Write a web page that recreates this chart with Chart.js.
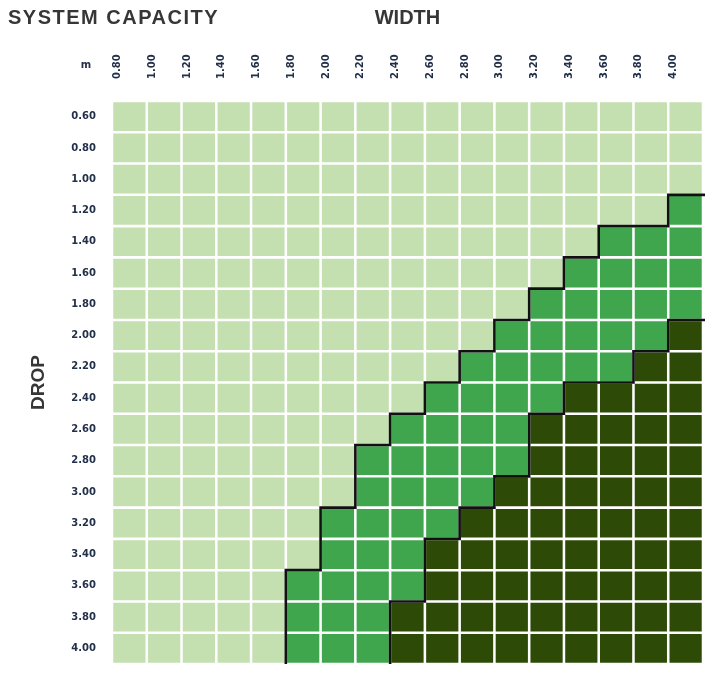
<!DOCTYPE html>
<html>
<head>
<meta charset="utf-8">
<script src="https://cdn.jsdelivr.net/npm/chart.js@4.4.1/dist/chart.umd.min.js"></script>
<style>
  body { margin: 0; background: #ffffff; }
  #wrap { width: 712px; height: 686px; }
</style>
</head>
<body>
<div id="wrap"><canvas id="capacityChart" width="712" height="686"></canvas></div>
<script>
// Width (m) columns and drop (m) rows
const widths = [0.80, 1.00, 1.20, 1.40, 1.60, 1.80, 2.00, 2.20, 2.40, 2.60, 2.80, 3.00, 3.20, 3.40, 3.60, 3.80, 4.00];
const drops = [0.60, 0.80, 1.00, 1.20, 1.40, 1.60, 1.80, 2.00, 2.20, 2.40, 2.60, 2.80, 3.00, 3.20, 3.40, 3.60, 3.80, 4.00];

// first width at which each drop row reaches the middle / top capacity band (null = never)
const midFrom = [null, null, null, 4.00, 3.60, 3.40, 3.20, 3.00, 2.80, 2.60, 2.40, 2.20, 2.20, 2.00, 2.00, 1.80, 1.80, 1.80];
const highFrom = [null, null, null, null, null, null, null, 4.00, 3.80, 3.40, 3.20, 3.20, 3.00, 2.80, 2.60, 2.60, 2.40, 2.40];

const bandColors = ['#c4dfb0', '#3fa64e', '#2d4a07'];
const tickColor = '#22304a';
const titleColor = '#363636';

function band(row, w) {
    if (highFrom[row] !== null && w >= highFrom[row] - 1e-9) return 2;
    if (midFrom[row] !== null && w >= midFrom[row] - 1e-9) return 1;
    return 0;
}

// one floating-bar dataset per drop row
const datasets = drops.map(function (d, r) {
    return {
        label: d.toFixed(2),
        data: widths.map(() => [d - 0.1, d + 0.1]),
        backgroundColor: widths.map(w => bandColors[band(r, w)]),
        borderColor: '#ffffff',
        borderWidth: 1.6,
        borderSkipped: false,
        grouped: false,
        barPercentage: 1,
        categoryPercentage: 1
    };
});

// black staircase lines along the band edges, plus the corner texts
const extrasPlugin = {
    id: 'extras',
    afterDatasetsDraw(chart) {
        const { ctx, chartArea, scales: { x, y } } = chart;
        const half = (x.getPixelForValue(1) - x.getPixelForValue(0)) / 2;
        [midFrom, highFrom].forEach(function (from) {
            const first = from.findIndex(v => v !== null);
            if (first < 0) return;
            ctx.save();
            ctx.strokeStyle = '#111111';
            ctx.lineWidth = 2.6;
            ctx.beginPath();
            ctx.moveTo(chartArea.right + 2, y.getPixelForValue(drops[first] - 0.1));
            for (let r = first; r < drops.length; r++) {
                const col = widths.findIndex(w => Math.abs(w - from[r]) < 1e-9);
                const px = x.getPixelForValue(col) - half;
                ctx.lineTo(px, y.getPixelForValue(drops[r] - 0.1));
                ctx.lineTo(px, y.getPixelForValue(drops[r] + 0.1));
            }
            ctx.stroke();
            ctx.restore();
        });

        ctx.save();
        ctx.fillStyle = titleColor;
        ctx.font = 'bold 20px "Liberation Sans"';
        ctx.letterSpacing = '1.5px';
        ctx.textBaseline = 'middle';
        ctx.textAlign = 'left';
        ctx.fillText('SYSTEM CAPACITY', 8, 18);
        // unit label over the drop column
        ctx.letterSpacing = '0px';
        ctx.fillStyle = tickColor;
        ctx.font = 'bold 10px "DejaVu Sans"';
        ctx.textAlign = 'center';
        ctx.textBaseline = 'alphabetic';
        ctx.fillText('m', 86, 68);
        ctx.restore();
    }
};

const config = {
    type: 'bar',
    data: {
        labels: widths.map(w => w.toFixed(2)),
        datasets: datasets
    },
    options: {
        responsive: false,
        animation: false,
        layout: {
            padding: { top: 0, left: 0, right: 9, bottom: 4 }
        },
        plugins: {
            legend: { display: false },
            tooltip: { enabled: false }
        },
        scales: {
            x: {
                type: 'category',
                position: 'top',
                grid: { display: false, drawTicks: false },
                border: { display: false },
                ticks: {
                    color: tickColor,
                    font: { family: 'DejaVu Sans', size: 10, weight: 'bold' },
                    minRotation: 90,
                    maxRotation: 90,
                    padding: 22
                },
                title: {
                    display: true,
                    text: 'WIDTH',
                    color: titleColor,
                    font: { family: 'Liberation Sans', size: 20, weight: 'bold' },
                    padding: { top: 6, bottom: 0 }
                },
                afterFit: function (scale) { scale.height = 101; }
            },
            y: {
                type: 'linear',
                reverse: true,
                min: 0.5,
                max: 4.1,
                grid: { display: false, drawTicks: false },
                border: { display: false },
                afterBuildTicks: function (scale) {
                    scale.ticks = drops.map(v => ({ value: v }));
                },
                ticks: {
                    color: tickColor,
                    font: { family: 'DejaVu Sans', size: 10, weight: 'bold' },
                    padding: 16,
                    callback: function (value) { return Number(value).toFixed(2); }
                },
                title: {
                    display: true,
                    text: 'DROP',
                    color: titleColor,
                    font: { family: 'Liberation Sans', size: 19, weight: 'bold' },
                    padding: { top: 27, bottom: 0 }
                },
                afterFit: function (scale) { scale.width = 112; }
            }
        }
    },
    plugins: [extrasPlugin]
};

new Chart(document.getElementById('capacityChart').getContext('2d'), config);
</script>
</body>
</html>
